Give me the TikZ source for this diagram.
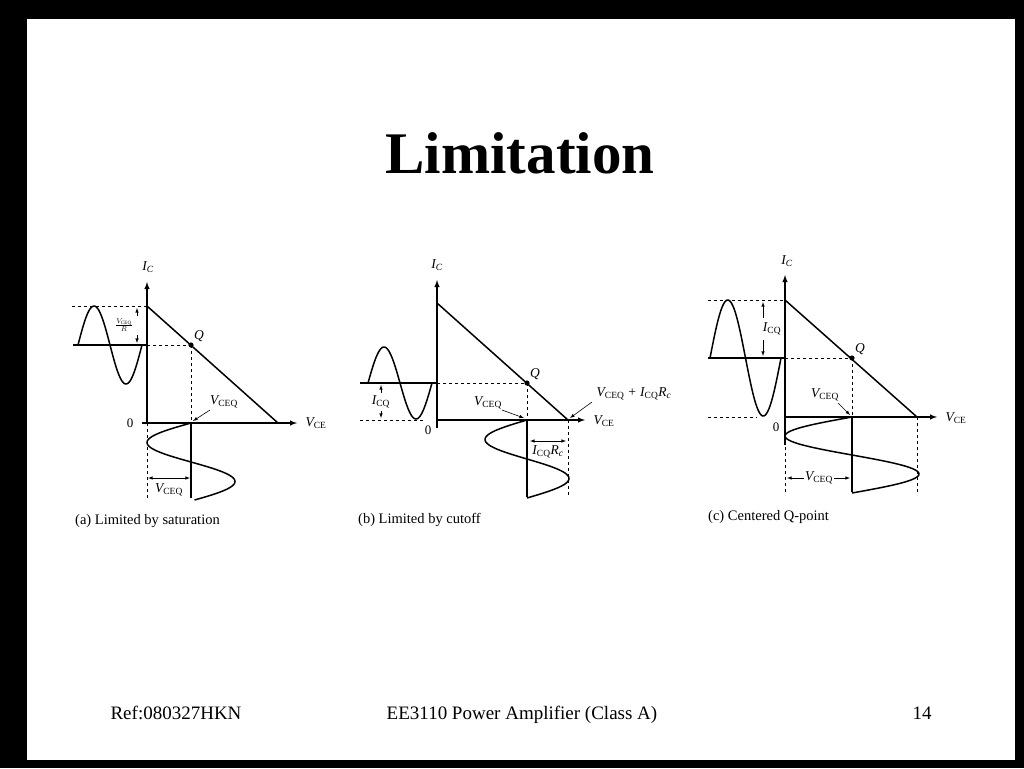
\documentclass[tikz,border=0pt]{standalone}
\usepackage{fontspec}
\setmainfont{Liberation Serif}
\begin{document}
\begin{tikzpicture}[x=1pt,y=-1pt,
  ax/.style={line width=1.4pt,-latex},
  ln/.style={line width=1.5pt},
  dsh/.style={dashed,line width=1pt},
  wave/.style={line width=1.5pt,smooth,samples=60},
  lbl/.style={font=\fontsize{13.5}{14}\selectfont\itshape,inner sep=1pt},
  capt/.style={font=\fontsize{14.5}{15}\selectfont,anchor=west,inner sep=0pt},
  dim/.style={line width=0.6pt,<->,>=latex},
  ptr/.style={line width=0.6pt,->,>=latex},
  foot/.style={font=\fontsize{19}{20}\selectfont,inner sep=0pt,anchor=base}]
\fill[black] (0,0) rectangle (1024,768);
\fill[white] (27,19) rectangle (1015,760);
\node[font=\fontsize{59}{60}\selectfont\bfseries] (title) at (520,153) {Limitation};
% ---------- (a)
\draw[ax] (147,423) -- (147,282);
\draw[ax] (142,423) -- (297,423);
\node[lbl] (aic) at (148,267) {I\textsubscript{C}};
\node[lbl] (avce) at (316,423) {V\textsubscript{\upshape CE}};
\node[font=\fontsize{13}{14}\selectfont] (a0) at (130,423) {0};
\coordinate (aA) at (147,306); \coordinate (aB) at (278,423);
\draw[ln] (aA) -- (aB);
\fill (191,345) circle (2.6) node[lbl,above right=2pt] (aq) {Q};
\draw[dsh] (72,306) -- (147,306);
\draw[ln] (73,345) -- (147,345);
\draw[dsh] (147,345) -- (191,345);
\draw[wave] plot[domain=78:142] (\x,{345-39*sin((\x-78)/64*360)});
\draw[dsh] (191,345) -- (191,423);
\draw[ln] (191,423) -- (191,498);
\draw[dsh] (147,423) -- (147,498);
\draw[wave] plot[domain=423:500] ({191-44*sin((\x-423)/78*360)},\x);
\node[lbl,font=\fontsize{10}{11}\selectfont\itshape] (afr) at (124,325) {$\frac{V_{\mathrm{CEQ}}}{R}$};
\draw[ptr] (137,316) -- (137,308);
\draw[ptr] (137,335) -- (137,343);
\node[lbl] (avq) at (224,402) {V\textsubscript{\upshape CEQ}};
\draw[ptr] (210,410) -- (193,421);
\draw[dim] (148,478) -- (190,478);
\node[lbl] (avq2) at (169,490) {V\textsubscript{\upshape CEQ}};
\node[capt] (acap) at (75,521) {(a) Limited by saturation};
% ---------- (b)
\draw[ax] (437,428) -- (437,280);
\draw[ax] (437,420) -- (585,420);
\node[lbl] (bic) at (437,265) {I\textsubscript{C}};
\node[lbl] (bvce) at (604,421) {V\textsubscript{\upshape CE}};
\node[font=\fontsize{13}{14}\selectfont] (b0) at (428,430) {0};
\coordinate (bA) at (437,303); \coordinate (bB) at (568,420);
\draw[ln] (bA) -- (bB);
\fill (527,383) circle (2.6) node[lbl,above right=2pt] (bq) {Q};
\draw[ln] (360,383) -- (437,383);
\draw[dsh] (437,383) -- (527,383);
\draw[dsh] (360,420) -- (425,420);
\draw[wave] plot[domain=368:432] (\x,{383-36*sin((\x-368)/64*360)});
\draw[dsh] (527,383) -- (527,420);
\draw[ln] (527,420) -- (527,497);
\draw[dsh] (568,420) -- (568,497);
\draw[wave] plot[domain=420:498] ({527-42*sin((\x-420)/78*360)},\x);
\node[lbl] (bicq) at (381,402) {I\textsubscript{\upshape CQ}};
\draw[ptr] (381,393) -- (381,385);
\draw[ptr] (381,411) -- (381,418);
\node[lbl] (bvq) at (488,403) {V\textsubscript{\upshape CEQ}};
\draw[ptr] (502,410) -- (524,418);
\node[lbl] (bsum) at (634,394) {V\textsubscript{\upshape CEQ} + I\textsubscript{\upshape CQ}R\textsubscript{c}};
\draw[ptr] (592,402) -- (570,418);
\draw[dim] (530,441) -- (566,441);
\node[lbl] (bir) at (548,452) {I\textsubscript{\upshape CQ}R\textsubscript{c}};
\node[capt] (bcap) at (358,520) {(b) Limited by cutoff};
% ---------- (c)
\draw[ax] (785,445) -- (785,275);
\draw[ax] (785,417) -- (937,417);
\node[lbl] (cic) at (787,261) {I\textsubscript{C}};
\node[lbl] (cvce) at (956,418) {V\textsubscript{\upshape CE}};
\node[font=\fontsize{13}{14}\selectfont] (c0) at (776,427) {0};
\coordinate (cA) at (785,300); \coordinate (cB) at (917,417);
\draw[ln] (cA) -- (cB);
\fill (852,358) circle (2.6) node[lbl,above right=2pt] (cq) {Q};
\draw[dsh] (708,300) -- (785,300);
\draw[ln] (708,358) -- (785,358);
\draw[dsh] (785,358) -- (852,358);
\draw[dsh] (708,417) -- (757,417);
\draw[wave] plot[domain=710:781] (\x,{358-58*sin((\x-710)/71*360)});
\draw[dsh] (852,358) -- (852,417);
\draw[ln] (852,417) -- (852,492);
\draw[dsh] (785,417) -- (785,495);
\draw[dsh] (917,417) -- (917,495);
\draw[wave] plot[domain=417:493] ({852-67*sin((\x-417)/76*360)},\x);
\node[lbl] (cicq) at (772,329) {I\textsubscript{\upshape CQ}};
\draw[ptr] (763,318) -- (763,302);
\draw[ptr] (763,340) -- (763,356);
\node[lbl] (cvq) at (825,395) {V\textsubscript{\upshape CEQ}};
\draw[ptr] (838,403) -- (850,415);
\draw[dim] (787,478) -- (850,478);
\node[lbl,fill=white] (cvq2) at (819,478) {V\textsubscript{\upshape CEQ}};
\node[capt] (ccap) at (708,517) {(c) Centered Q-point};
% ---------- footer
\node[foot] (f1) at (176,719) {Ref:080327HKN};
\node[foot] (f2) at (522,719) {EE3110 Power Amplifier (Class A)};
\node[foot] (f3) at (922,719) {14};
\end{tikzpicture}
\end{document}
